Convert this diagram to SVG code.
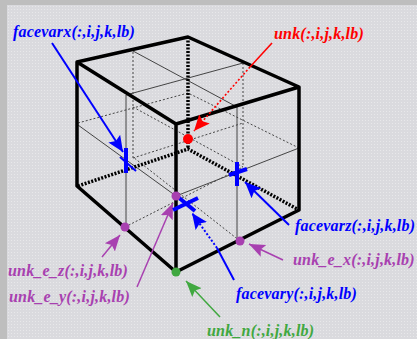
<svg xmlns="http://www.w3.org/2000/svg" width="417" height="339" viewBox="0 0 417 339">
<defs>
<pattern id="dots" x="7" y="5" width="3" height="3" patternUnits="userSpaceOnUse"><rect width="3" height="3" fill="#dadade"/><rect x="1" y="1" width="1" height="1" fill="#e8e8ea"/></pattern>
<marker id="hb" markerUnits="userSpaceOnUse" markerWidth="18" markerHeight="16" refX="16" refY="8" orient="auto"><path d="M0 1L16 8L0 15L3 8Z" fill="#0000ff"/></marker>
<marker id="hr" markerUnits="userSpaceOnUse" markerWidth="18" markerHeight="16" refX="16" refY="8" orient="auto"><path d="M0 1L16 8L0 15L3 8Z" fill="#ff0000"/></marker>
<marker id="hp" markerUnits="userSpaceOnUse" markerWidth="18" markerHeight="16" refX="16" refY="8" orient="auto"><path d="M0 1.5L16 8L0 14.5L3 8Z" fill="#a840b0"/></marker>
<marker id="hg" markerUnits="userSpaceOnUse" markerWidth="18" markerHeight="16" refX="16" refY="8" orient="auto"><path d="M0 1.5L16 8L0 14.5L3 8Z" fill="#40a840"/></marker>
</defs>
<style>
text{font-family:"Liberation Serif",serif;font-weight:bold;font-style:italic;font-size:16px;letter-spacing:.19px}
.edge{fill:none;stroke:#000;stroke-width:3.5;stroke-linecap:round;stroke-linejoin:round}
.hid{fill:none;stroke:#000;stroke-width:3.5;stroke-dasharray:2 1.5}
.thin{fill:none;stroke:#444;stroke-width:1}
.dot{fill:none;stroke:#444;stroke-width:1;stroke-dasharray:2 2}
.blue{fill:#0000ff}.red{fill:#ff0000}.pur{fill:#a840b0}.grn{fill:#40a840}
.bar{stroke:#0000ff;stroke-width:4;fill:none}
</style>
<rect width="417" height="339" fill="#bebebe"/>
<rect x="7" y="5" width="410" height="334" fill="url(#dots)"/>
<g id="connectors">
<path class="dot" d="M133 52V158M243 63V167M78 123L188 93L299 148M125 227L243 167M240 241L133 157M133 158L243 123M133 107L243 167"/>
<path class="thin" d="M133 51L237 107M126 95L243 63M78 125L176 196L299 148M126 95V227M237 107V241"/>
<path class="hid" d="M188 37V149M78 186L188 149L299 210"/>
<path class="edge" d="M77 62L188 37L299 87L176 124ZM77 62V186L176 272L299 210V87M176 124V272"/>
<path d="M52 43L123 152" stroke="#0000ff" stroke-width="2" fill="none" marker-end="url(#hb)"/>
<path d="M289 225L245 182" stroke="#0000ff" stroke-width="2" fill="none" marker-end="url(#hb)"/>
<path d="M234 280L217 248" stroke="#0000ff" stroke-width="2" fill="none"/>
<path d="M217 248L192 213" stroke="#0000ff" stroke-width="2" stroke-dasharray="2 2" fill="none" marker-end="url(#hb)"/>
<path d="M272 43L250 67" stroke="#ff0000" stroke-width="1.6" fill="none"/>
<path d="M250 67L194 131" stroke="#ff0000" stroke-width="1.6" stroke-dasharray="2 2" fill="none" marker-end="url(#hr)"/>
<path d="M102 257L120 235" stroke="#a840b0" stroke-width="1.5" fill="none" marker-end="url(#hp)"/>
<path d="M137 287L173 203" stroke="#a840b0" stroke-width="1.5" fill="none" marker-end="url(#hp)"/>
<path d="M283 260L249 244" stroke="#a840b0" stroke-width="1.5" fill="none" marker-end="url(#hp)"/>
<path d="M220 317L186 281" stroke="#40a840" stroke-width="1.5" fill="none" marker-end="url(#hg)"/>
</g>
<g id="facevarx-mark"><path class="bar" d="M126 148V173"/><path d="M120 157L136 171" stroke="#0000ff" stroke-width="2" fill="none"/></g>
<g id="facevarz-mark"><path class="bar" d="M237 162V186M229 175L247 169"/></g>
<g id="facevary-mark"><path class="bar" d="M173 210L198 198M178 197L195 211"/></g>
<g id="unk-node"><circle class="red" cx="188" cy="139" r="5"/></g>
<g id="unk-e-z-node"><circle class="pur" cx="125" cy="227" r="4.5"/></g>
<g id="unk-e-y-node"><circle class="pur" cx="176" cy="196" r="4.5"/></g>
<g id="unk-e-x-node"><circle class="pur" cx="240" cy="241" r="4.5"/></g>
<g id="unk-n-node"><circle class="grn" cx="176" cy="272" r="4.5"/></g>
<g id="labels">
<text class="blue" x="13" y="37">facevarx(:,i,j,k,lb)</text>
<text class="red" x="274" y="39">unk(:,i,j,k,lb)</text>
<text class="blue" x="295" y="231">facevarz(:,i,j,k,lb)</text>
<text class="pur" x="293" y="265">unk_e_x(:,i,j,k,lb)</text>
<text class="pur" x="8" y="276">unk_e_z(:,i,j,k,lb)</text>
<text class="pur" x="9" y="302">unk_e_y(:,i,j,k,lb)</text>
<text class="blue" x="236" y="299">facevary(:,i,j,k,lb)</text>
<text class="grn" x="207" y="336">unk_n(:,i,j,k,lb)</text>
</g>
</svg>
